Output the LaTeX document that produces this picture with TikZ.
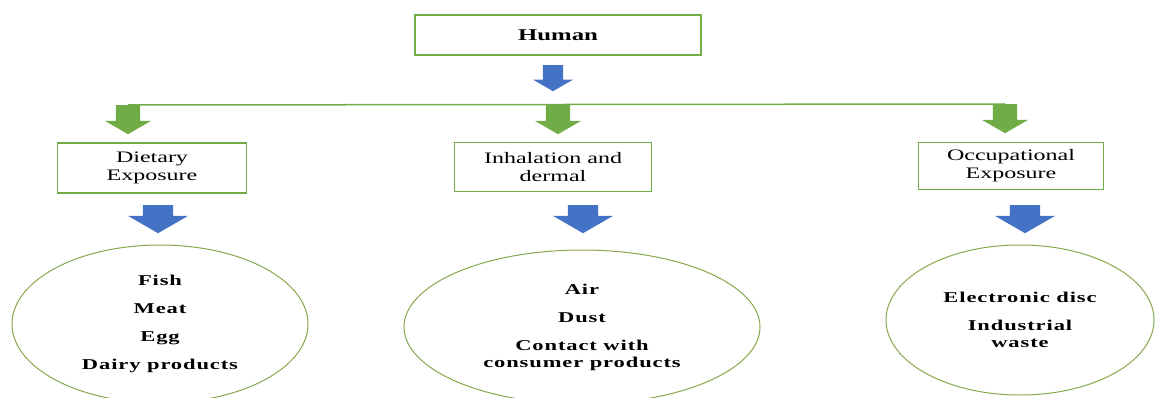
\documentclass[tikz,border=0pt]{standalone}
\usepackage{fontspec}
\setmainfont{Liberation Serif}[FakeStretch=1.5]
\newfontfamily\itemfont{Liberation Serif}[FakeStretch=1.5,LetterSpace=6]
\usetikzlibrary{shapes.geometric,shapes.arrows}
\definecolor{boxgreen}{RGB}{112,173,71}
\definecolor{arrowblue}{RGB}{68,114,196}
\definecolor{ringgreen}{RGB}{134,168,74}
\begin{document}
\begin{tikzpicture}[x=1pt, y=-1pt,
    box/.style={draw=boxgreen, line width=1.8pt, inner sep=0pt, align=center, font=\fontsize{16}{18}\selectfont},
    ring/.style={ellipse, draw=ringgreen, line width=1pt, inner sep=0pt, align=center, font=\itemfont\bfseries\fontsize{15}{17}\selectfont},
    arw/.style={single arrow, rotate=-90, anchor=tail, inner sep=0pt, minimum width=0pt, single arrow tip angle=120, single arrow head indent=0pt},
    humanarw/.style={arw, fill=arrowblue, inner ysep=10pt, single arrow head extend=10pt, minimum height=26pt},
    greenarw/.style={arw, fill=boxgreen, inner ysep=12pt, single arrow head extend=11pt, minimum height=29pt},
    bluearw/.style={arw, fill=arrowblue, inner ysep=15pt, single arrow head extend=15pt, minimum height=28pt}]
    \useasboundingbox (0,0) rectangle (1155,398);
    \node[box, font=\bfseries\fontsize{16.5}{18}\selectfont, minimum width=286pt, minimum height=40pt] (human) at (558,35) {Human};
    \node[box, minimum width=189pt, minimum height=50pt] (diet) at (152,168) {Dietary\\Exposure};
    \node[box, minimum width=197pt, minimum height=49pt] (inhal) at (553,167) {Inhalation and\\dermal};
    \node[box, minimum width=185pt, minimum height=47pt] (occup) at (1011,166) {Occupational\\Exposure};
    \node[ring, minimum width=296pt, minimum height=158pt] (food) at (160,324) {Fish\\[11pt]Meat\\[11pt]Egg\\[11pt]Dairy products};
    \node[ring, minimum width=356pt, minimum height=154pt] (air) at (582,327) {Air\\[11pt]Dust\\[11pt]Contact with\\consumer products};
    \node[ring, minimum width=268pt, minimum height=150pt] (work) at (1020,320) {Electronic disc\\[11pt]Industrial\\waste};
    \node[humanarw] (a0) at (553,65) {};
    \node[greenarw] (g1) at (128,105) {};
    \node[greenarw] (g2) at (558,105) {};
    \node[greenarw] (g3) at (1005,104) {};
    \draw[boxgreen, line width=1.5pt] (g1.tail) -- (g3.tail);
    \node[bluearw] (b1) at (158,205) {};
    \node[bluearw] (b2) at (583,205) {};
    \node[bluearw] (b3) at (1025,205) {};
\end{tikzpicture}
\end{document}
